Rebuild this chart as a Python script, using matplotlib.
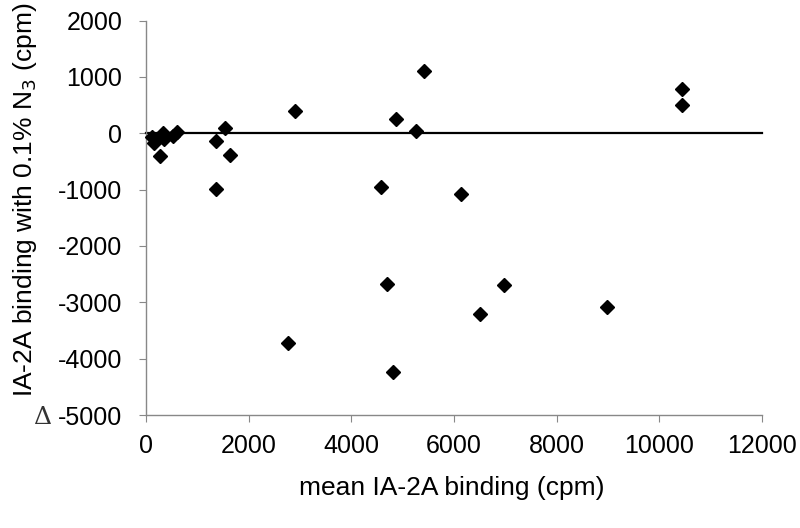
import matplotlib
matplotlib.use("Agg")
import matplotlib.pyplot as plt

plt.rcParams['font.family'] = ['Liberation Sans', 'DejaVu Sans']
plt.rcParams['axes.unicode_minus'] = False

# mean binding (cpm) vs difference with 0.1% N3 (cpm)
mean_cpm = [111, 156, 273, 326, 352, 521, 605, 1367, 1543, 1640, 1367,
            2910, 2760, 4570, 4688, 4818, 4869, 5267, 5424, 6133, 6510,
            6973, 8984, 10443, 10443]
delta_cpm = [-66, -172, -409, 12, -107, -53, 23, -142, 89, -391, -995,
             391, -3718, -959, -2682, -4240, 254, 36, 1107, -1083, -3203,
             -2700, -3085, 794, 510]

xticks = [0, 2000, 4000, 6000, 8000, 10000, 12000]
yticks = [2000, 1000, 0, -1000, -2000, -3000, -4000, -5000]

fig = plt.figure(figsize=(8, 5.28), dpi=100)
ax = fig.add_axes([0.1825, 0.214, 0.77, 0.747])

ax.plot([0, 12000], [0, 0], color='black', linewidth=1.6, clip_on=False, zorder=2)
ax.plot(mean_cpm, delta_cpm, linestyle='none', marker='D', markersize=7,
        color='black', zorder=3, clip_on=False)

ax.set_xlim(0, 12000)
ax.set_ylim(-5000, 2000)
ax.set_xticks(xticks)
ax.set_yticks(yticks)
ax.tick_params(direction='out', length=5, color='#888888', labelsize=18)
ax.tick_params(axis='y', pad=12)
ax.tick_params(axis='x', pad=9)

for side in ['top', 'right']:
    ax.spines[side].set_visible(False)
for side in ['left', 'bottom']:
    ax.spines[side].set_color('#888888')
    ax.spines[side].set_linewidth(1.0)

fig.text(0.565, 0.076, 'mean IA-2A binding (cpm)', fontsize=19,
         ha='center', va='center')
fig.text(0.031, 0.621, 'IA-2A binding with 0.1% N$_3$ (cpm)', rotation=90,
         fontsize=19, ha='center', va='center')
fig.text(0.052, 0.21, '\u0394', fontsize=18, family='DejaVu Serif',
         ha='center', va='center', color='#333333')

fig.savefig('out.png', dpi=100)
